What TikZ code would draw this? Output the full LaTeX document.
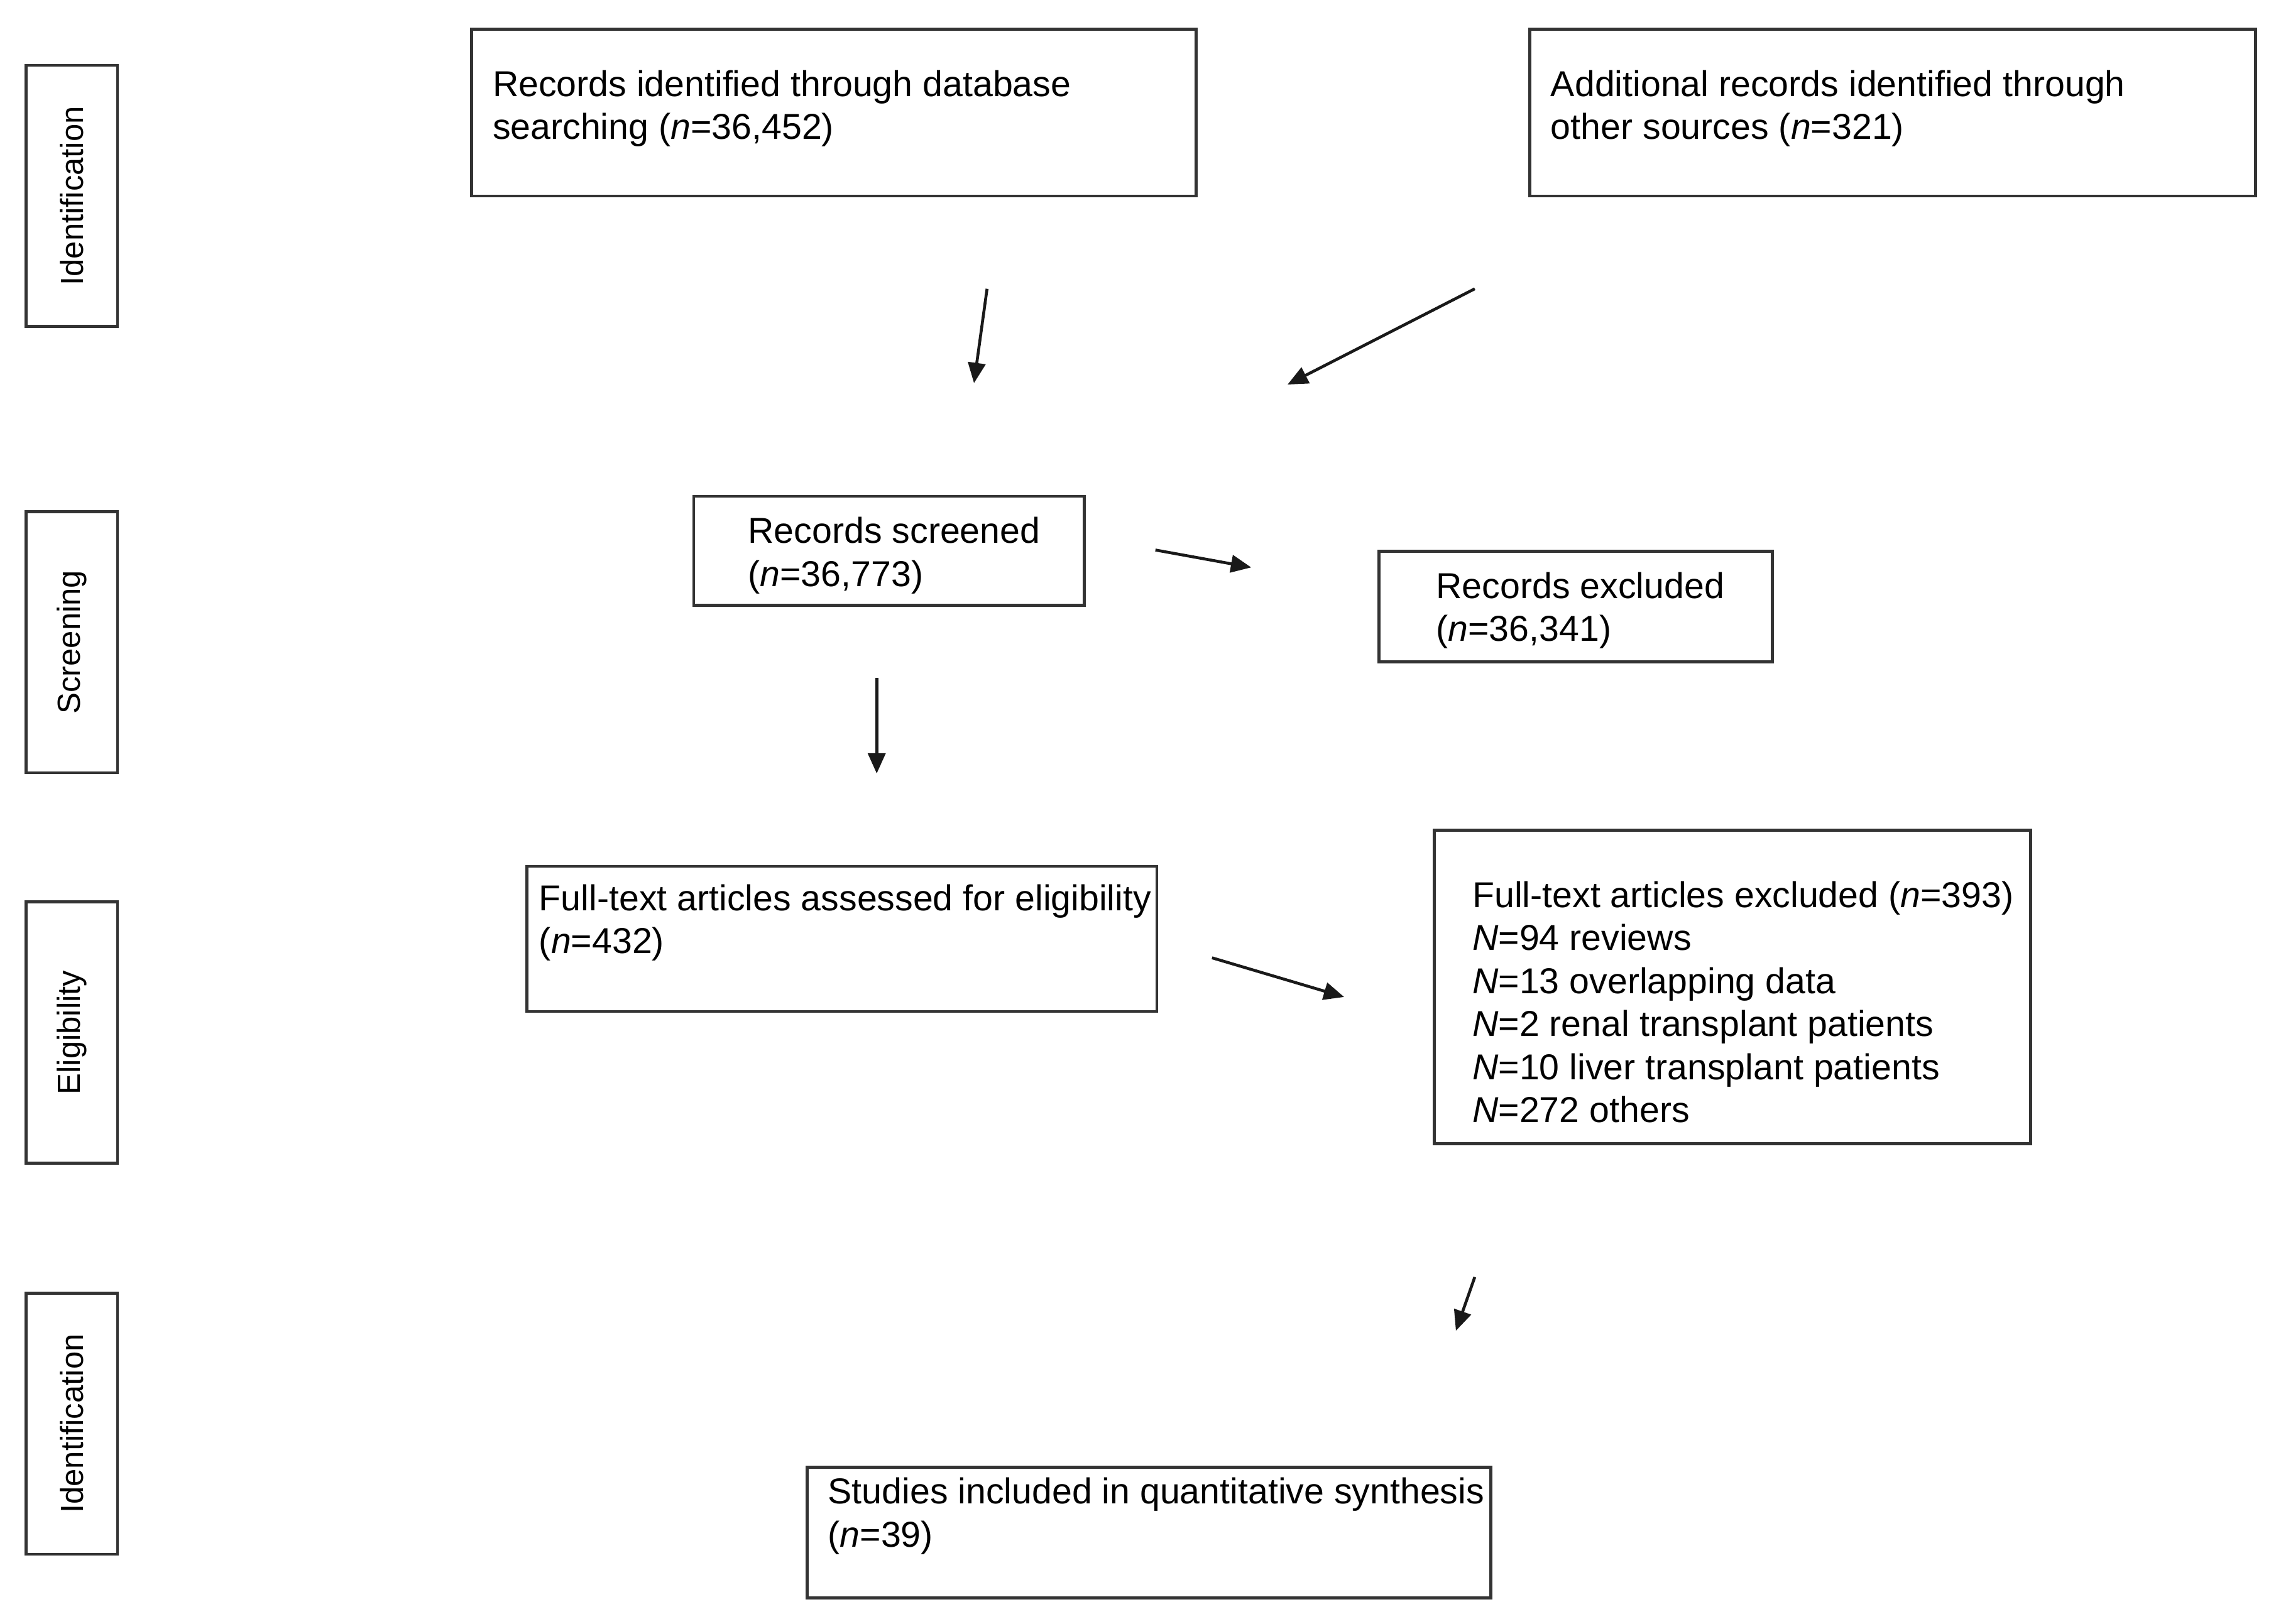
\documentclass[tikz,border=0pt]{standalone}
\usepackage{fontspec}
\setmainfont{Liberation Sans}
\usetikzlibrary{arrows.meta}
\begin{document}
\begin{tikzpicture}[x=0.5pt,y=-0.5pt,
  box/.style={draw=black!80,line width=1pt},
  txt/.style={anchor=north west,inner sep=0pt,align=left,font=\fontsize{12.4}{14.8}\selectfont},
  side/.style={draw=black!80,line width=1pt,rotate=90,minimum width=90pt,minimum height=31.5pt,inner sep=0pt,font=\fontsize{11}{12}\selectfont},
  arr/.style={-{Triangle[length=7pt,width=6pt]},line width=1pt,black!90}]
\useasboundingbox[fill=white] (0,0) rectangle (1568,1119);

% phase labels
\node[side] (s1) at (49.5,135) {Identification};
\node[side] (s2) at (49.5,442.5) {Screening};
\node[side] (s3) at (49.5,711.5) {Eligibility};
\node[side] (s4) at (49.5,981) {Identification};

% boxes
\draw[box] (325,20) rectangle (824,135);
\node[txt] (A) at (339,48) {Records identified through database\\searching (\textit{n}=36,452)};
\draw[box] (1054,20) rectangle (1554,135);
\node[txt] (B) at (1068,48) {Additional records identified through\\other sources (\textit{n}=321)};
\draw[box] (478,342) rectangle (747,417);
\node[txt] (C) at (515,356) {Records screened\\(\textit{n}=36,773)};
\draw[box] (950,380) rectangle (1221,456);
\node[txt] (D) at (989,394) {Records excluded\\(\textit{n}=36,341)};
\draw[box] (363,597) rectangle (797,697);
\node[txt] (E) at (371,609) {Full-text articles assessed for eligibility\\(\textit{n}=432)};
\draw[box] (988,572) rectangle (1399,788);
\node[txt] (F) at (1014,607) {Full-text articles excluded (\textit{n}=393)\\\textit{N}=94 reviews\\\textit{N}=13 overlapping data\\\textit{N}=2 renal transplant patients\\\textit{N}=10 liver transplant patients\\\textit{N}=272 others};
\draw[box] (556,1011) rectangle (1027,1101);
\node[txt] (G) at (570,1018) {Studies included in quantitative synthesis\\(\textit{n}=39)};

% arrow end points
\coordinate (p1) at (680,199); \coordinate (q1) at (671,264);
\coordinate (p2) at (1016,199); \coordinate (q2) at (887,265);
\coordinate (p3) at (796,379); \coordinate (q3) at (862,391);
\coordinate (p4) at (604,467); \coordinate (q4) at (604,533);
\coordinate (p5) at (835,660); \coordinate (q5) at (926,687);
\coordinate (p6) at (1016,880); \coordinate (q6) at (1003,917);

\draw[arr] (p1) -- (q1);
\draw[arr] (p2) -- (q2);
\draw[arr] (p3) -- (q3);
\draw[arr] (p4) -- (q4);
\draw[arr] (p5) -- (q5);
\draw[arr] (p6) -- (q6);
\end{tikzpicture}
\end{document}
